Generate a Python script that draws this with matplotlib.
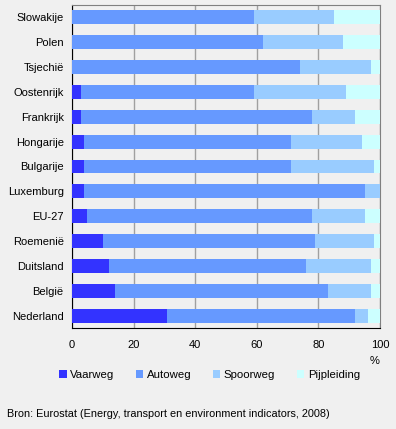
import numpy as np
import matplotlib.pyplot as plt
from matplotlib.patches import Patch

plt.rcParams['font.family'] = ['Liberation Sans', 'DejaVu Sans']
plt.rcParams['font.size'] = 7.7

landen = ["Slowakije", "Polen", "Tsjechië", "Oostenrijk", "Frankrijk", "Hongarije",
          "Bulgarije", "Luxemburg", "EU-27", "Roemenië", "Duitsland", "België", "Nederland"]
vaarweg = [0, 0, 0, 3, 3, 4, 4, 4, 5, 10, 12, 14, 31]
autoweg = [59, 62, 74, 56, 75, 67, 67, 91, 73, 69, 64, 69, 61]
spoorweg = [26, 26, 23, 30, 14, 23, 27, 5, 17, 19, 21, 14, 4]
pijpleiding = [15, 12, 3, 11, 8, 6, 2, 0, 5, 2, 3, 3, 4]

series = [("Vaarweg", vaarweg, "#3333ff"),
          ("Autoweg", autoweg, "#6699ff"),
          ("Spoorweg", spoorweg, "#99ccff"),
          ("Pijpleiding", pijpleiding, "#ccffff")]

bg = "#f0f0f0"
fig = plt.figure(figsize=(3.96, 4.29), dpi=100, facecolor=bg)
ax = fig.add_axes([72 / 396, 1 - 328 / 429, 308 / 396, 323 / 429], facecolor=bg)

y = np.arange(len(landen))
left = np.zeros(len(landen))
for name, vals, col in series:
    ax.barh(y, vals, left=left, height=0.56, color=col, zorder=3)
    left += np.array(vals)

ax.set_xlim(0, 100)
ax.set_ylim(len(landen) - 0.5, -0.5)
ax.set_yticks(y)
ax.set_yticklabels(landen)
ax.set_xticks([0, 20, 40, 60, 80, 100])
ax.tick_params(axis="both", length=0, labelsize=8)
ax.tick_params(axis="x", pad=9)
ax.tick_params(axis="y", pad=6)
ax.grid(axis="x", color="#a0a0a0", linewidth=1, zorder=0)
ax.spines["left"].set_color("black")
ax.spines["bottom"].set_color("black")
ax.spines["top"].set_color("#808080")
ax.spines["right"].set_color("#808080")

fig.text(375 / 396, 1 - 361 / 429, "%", ha="center", va="center", fontsize=8)

handles = [Patch(facecolor=c, edgecolor="none") for _, _, c in series]
fig.legend(handles, [s[0] for s in series], ncol=4, loc="center",
           bbox_to_anchor=(209.5 / 396, 1 - 375 / 429), frameon=False,
           handlelength=0.65, handleheight=0.65, handletextpad=0.3,
           columnspacing=1.9, fontsize=8.2, borderpad=0, borderaxespad=0)

fig.text(7 / 396, 1 - 414 / 429, "Bron: Eurostat (Energy, transport en environment indicators, 2008)",
         ha="left", va="center", fontsize=7.8)

fig.savefig("out.png", dpi=100, facecolor=bg)
